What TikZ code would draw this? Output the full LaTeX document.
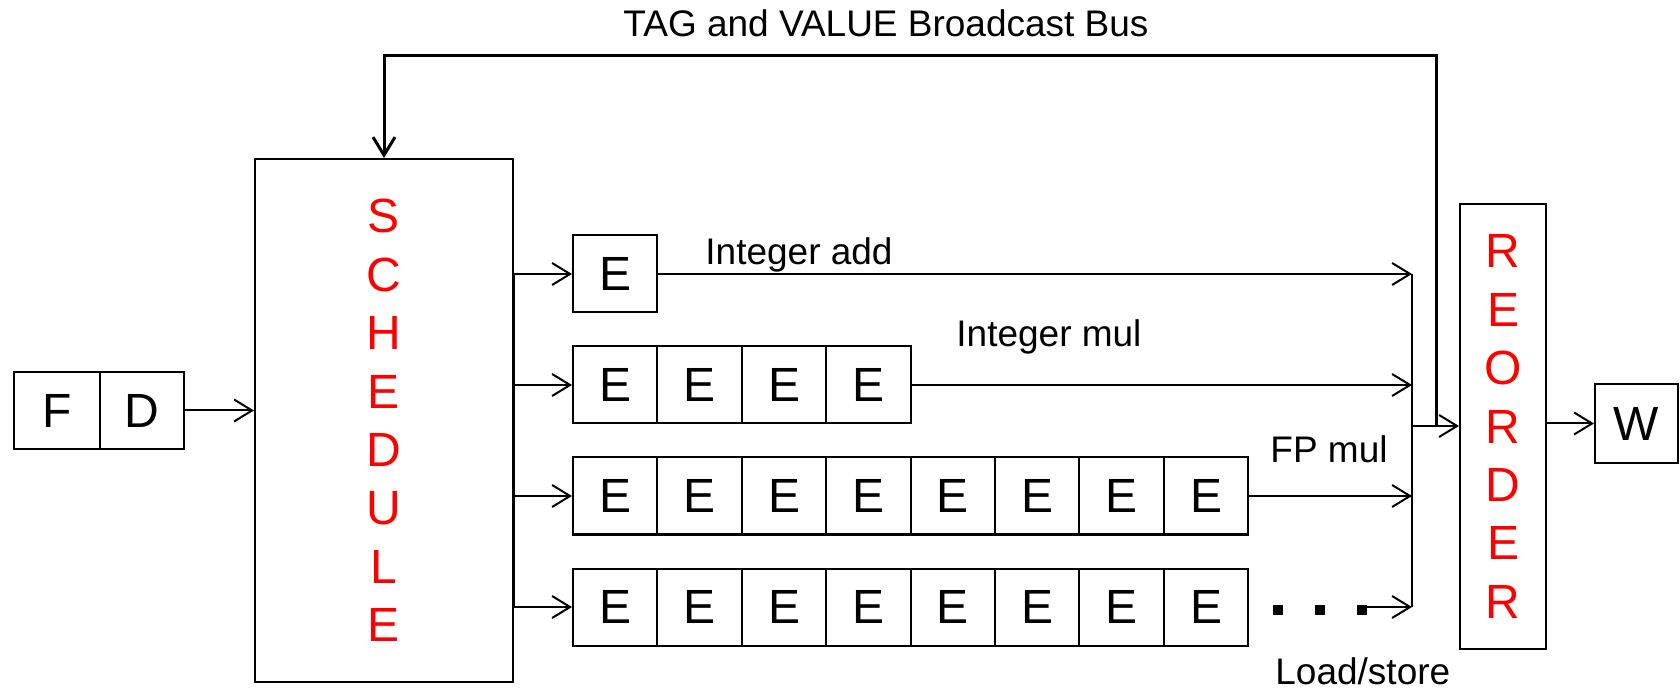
\documentclass[tikz,border=0pt]{standalone}
\usepackage{fontspec}
\setmainfont{Liberation Sans}
\usetikzlibrary{arrows.meta}

\begin{document}
\begin{tikzpicture}[x=0.5pt, y=-0.5pt,
    stage/.style={rectangle, draw, line width=1pt, inner sep=0pt, font=\fontsize{24}{24}\selectfont},
    ebox/.style={stage, minimum width=42.2pt, minimum height=38.5pt},
    tall/.style={rectangle, draw, line width=1pt, inner sep=0pt, align=center, text=red, font=\fontsize{24}{29.2}\selectfont},
    lanelabel/.style={inner sep=0pt, anchor=base west, font=\fontsize{18.5}{18.5}\selectfont},
    line/.style={draw, line width=1pt, -{Straight Barb[length=9pt, width=11pt]}},
    bus/.style={line, line width=1.5pt},
    dotmark/.style={rectangle, fill, inner sep=0pt, minimum size=5pt}
    ]
    \useasboundingbox (0,0) rectangle (1680,694);

    \node [stage, minimum width=43pt, minimum height=38.5pt] (f) at (57,410.5) {F};
    \node [stage, minimum width=42pt, minimum height=38.5pt] (d) at (142,410.5) {D};
    \node [tall, minimum width=129pt, minimum height=261.5pt] (sched) at (384,420.5) {S\\C\\H\\E\\D\\U\\L\\E};
    \node [tall, minimum width=43pt, minimum height=222.5pt] (reorder) at (1503,426.5) {R\\E\\O\\R\\D\\E\\R};
    \node [stage, minimum width=41.5pt, minimum height=39.5pt] (w) at (1636.5,423.5) {W};

    % execution pipelines
    \foreach \r/\n/\y in {1/1/274, 2/4/385, 3/8/496, 4/8/607} {
        \foreach \i in {1,...,\n}
            \node [ebox] (e\r-\i) at ({573+84.4*(\i-0.5)},\y) {E};
        \draw [line] (sched.east |- e\r-1) -- (e\r-1.west);
    }
    \draw [line width=1pt] (sched.east |- e1-1) -- (sched.east |- e4-1);

    \node [lanelabel] (intadd) at (705,265) {Integer add};
    \node [lanelabel] (intmul) at (956,347) {Integer mul};
    \node [lanelabel] (fpmul) at (1270,463) {FP mul};
    \node [lanelabel] (ldst) at (1275,684) {Load/store};

    \node [dotmark] (dot1) at (1278,610) {};
    \node [dotmark] (dot2) at (1320,610) {};
    \node [dotmark] (dot3) at (1362,610) {};

    \coordinate (merge) at (1412,426);
    \foreach \last in {e1-1, e2-4, e3-8}
        \draw [line] (\last.east) -- (\last.east -| merge);
    \draw [line] (dot3.east |- e4-8) -- (merge |- e4-8);
    \draw [line width=1pt] (merge |- e1-1) -- (merge |- e4-8);

    \draw [line] (d.east) -- (d.east -| sched.west);
    \draw [line] (merge) -- (merge -| reorder.west);
    \draw [line] (reorder.east |- w) -- (w.west);

    % broadcast bus
    \coordinate (busfoot) at (1436,426);
    \coordinate (bustop) at (1436,56);
    \draw [bus] (busfoot) -- (bustop) -| (sched.north);
    \node [lanelabel, anchor=base] (busname) at (886,37) {TAG and VALUE Broadcast Bus};
\end{tikzpicture}
\end{document}
